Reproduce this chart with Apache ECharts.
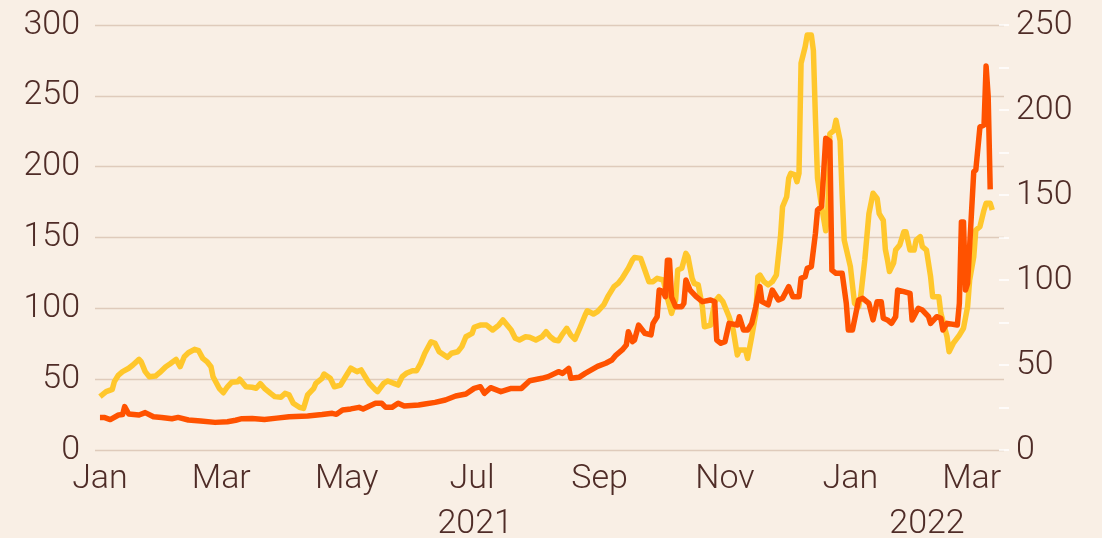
<!DOCTYPE html>
<html>
<head>
<meta charset="utf-8">
<script src="https://cdn.jsdelivr.net/npm/echarts@6/dist/echarts.min.js"></script>
<style>
  html, body { margin: 0; padding: 0; background: #f9efe5; }
  #chart { width: 1102px; height: 538px; }
</style>
</head>
<body>
<div id="chart"></div>
<script>
// ---- Data ----
const orangeDates = [
  '2021-01-01','2021-01-03','2021-01-06','2021-01-10','2021-01-12','2021-01-13','2021-01-15','2021-01-20','2021-01-23','2021-01-27','2021-01-31',
  '2021-02-05','2021-02-08','2021-02-13','2021-02-19','2021-02-26',
  '2021-03-04','2021-03-08','2021-03-11','2021-03-16','2021-03-22','2021-03-28',
  '2021-04-03','2021-04-12','2021-04-19','2021-04-24','2021-04-26','2021-04-29',
  '2021-05-03','2021-05-07','2021-05-09','2021-05-15','2021-05-18','2021-05-20','2021-05-23','2021-05-26','2021-05-29',
  '2021-06-05','2021-06-08','2021-06-13','2021-06-18','2021-06-23','2021-06-28',
  '2021-07-02','2021-07-05','2021-07-07','2021-07-10','2021-07-15','2021-07-20','2021-07-25','2021-07-29',
  '2021-08-04','2021-08-07','2021-08-12','2021-08-14','2021-08-17','2021-08-18','2021-08-22','2021-08-25','2021-08-31',
  '2021-09-04','2021-09-07','2021-09-09','2021-09-12','2021-09-14','2021-09-15','2021-09-17','2021-09-18','2021-09-20','2021-09-23','2021-09-26','2021-09-27','2021-09-29','2021-09-30',
  '2021-10-02','2021-10-03','2021-10-04','2021-10-05','2021-10-06','2021-10-08','2021-10-11','2021-10-12','2021-10-13','2021-10-15','2021-10-18','2021-10-21','2021-10-25','2021-10-27','2021-10-28','2021-10-30',
  '2021-11-01','2021-11-03','2021-11-07','2021-11-08','2021-11-10','2021-11-12','2021-11-14','2021-11-16','2021-11-18','2021-11-19','2021-11-22','2021-11-24','2021-11-27','2021-11-29',
  '2021-12-02','2021-12-04','2021-12-07','2021-12-08','2021-12-10','2021-12-11','2021-12-13','2021-12-15','2021-12-16','2021-12-18','2021-12-20','2021-12-22','2021-12-23','2021-12-25','2021-12-28','2021-12-30','2021-12-31',
  '2022-01-02','2022-01-05','2022-01-07','2022-01-10','2022-01-12','2022-01-14','2022-01-16','2022-01-17','2022-01-19','2022-01-21','2022-01-23','2022-01-24','2022-01-27','2022-01-30','2022-01-31',
  '2022-02-03','2022-02-05','2022-02-08','2022-02-09','2022-02-12','2022-02-14','2022-02-15','2022-02-17','2022-02-22','2022-02-23','2022-02-24','2022-02-25','2022-02-26','2022-02-27',
  '2022-03-02','2022-03-03','2022-03-05','2022-03-07','2022-03-08','2022-03-09','2022-03-10'
];
const orangeValues = [
  23,23,21.5,24.7,25,30.6,25.4,24.7,26.4,23.5,23,
  22.1,23,21.2,20.5,19.5,
  20,21,22.1,22.3,21.6,22.5,
  23.5,24,25,25.9,25.2,28.2,
  29,30.1,28.9,33,33,30.1,30.1,33,31,
  31.8,32.5,33.6,35.3,38.1,39.5,
  43.5,44.7,40,44,41.2,43.5,43.5,48.9,
  50.6,51.8,55.3,54.1,57.6,50.6,51.3,54.1,59,
  61.2,63.5,67,70.6,74.1,83.5,76.5,77.6,88.2,82.4,81.2,89.4,94.1,112.9,
  111.8,108.2,134,134,108,101.2,101.2,103.5,120,112.9,108.2,104.7,105.9,104.7,77.6,75.3,
  76.5,89.4,88.2,94.1,84.7,84.7,89.4,101.2,115.3,104.7,102.4,112.9,105.9,107.1,
  115.3,108.2,108.2,121.2,122.4,128.2,129.4,153,169.4,172,220,218,127,124.7,124.7,103.5,84.7,
  84.7,105.9,107.1,103.5,91.8,104.7,104.7,93,91.8,89.4,94.1,112.9,111.8,110.6,91.8,
  100,98.8,94.1,89.4,94.1,93,84.7,89.4,88.2,103.5,161,161,113,117.6,
  196.5,197.6,228,229.4,271,250,184
];

const yellowDates = [
  '2021-01-01','2021-01-04','2021-01-07','2021-01-08','2021-01-10','2021-01-12','2021-01-15','2021-01-17','2021-01-20','2021-01-21','2021-01-23','2021-01-25','2021-01-28','2021-01-30',
  '2021-02-02','2021-02-04','2021-02-07','2021-02-09','2021-02-11','2021-02-13','2021-02-16','2021-02-18','2021-02-20','2021-02-22','2021-02-24','2021-02-25','2021-02-28',
  '2021-03-02','2021-03-04','2021-03-06','2021-03-09','2021-03-10','2021-03-13','2021-03-16','2021-03-18','2021-03-20','2021-03-22','2021-03-25','2021-03-27','2021-03-30',
  '2021-04-01','2021-04-03','2021-04-05','2021-04-08','2021-04-10','2021-04-12','2021-04-15','2021-04-16','2021-04-19','2021-04-20','2021-04-23','2021-04-25','2021-04-28','2021-04-30',
  '2021-05-03','2021-05-06','2021-05-08','2021-05-10','2021-05-12','2021-05-15','2021-05-16','2021-05-19','2021-05-21','2021-05-24','2021-05-26','2021-05-28','2021-05-30',
  '2021-06-02','2021-06-04','2021-06-06','2021-06-08','2021-06-11','2021-06-13','2021-06-15','2021-06-19','2021-06-21','2021-06-24','2021-06-26','2021-06-28',
  '2021-07-01','2021-07-02','2021-07-05','2021-07-08','2021-07-11','2021-07-14','2021-07-16','2021-07-18','2021-07-20','2021-07-22','2021-07-24','2021-07-27','2021-07-29',
  '2021-08-01','2021-08-04','2021-08-06','2021-08-08','2021-08-10','2021-08-12','2021-08-14','2021-08-16','2021-08-18','2021-08-20','2021-08-22','2021-08-25','2021-08-26','2021-08-29','2021-08-31',
  '2021-09-03','2021-09-05','2021-09-08','2021-09-10','2021-09-12','2021-09-15','2021-09-17','2021-09-18','2021-09-21','2021-09-23','2021-09-25','2021-09-27','2021-09-29',
  '2021-10-02','2021-10-04','2021-10-06','2021-10-08','2021-10-09','2021-10-11','2021-10-13','2021-10-14','2021-10-16','2021-10-17','2021-10-19','2021-10-21','2021-10-22','2021-10-25','2021-10-27','2021-10-29','2021-10-31',
  '2021-11-03','2021-11-05','2021-11-07','2021-11-08','2021-11-11','2021-11-12','2021-11-14','2021-11-16','2021-11-17','2021-11-18','2021-11-20','2021-11-22','2021-11-24','2021-11-26','2021-11-28','2021-11-29',
  '2021-12-01','2021-12-02','2021-12-03','2021-12-05','2021-12-06','2021-12-07','2021-12-08','2021-12-10','2021-12-11','2021-12-13','2021-12-14','2021-12-15','2021-12-16','2021-12-18','2021-12-20','2021-12-21','2021-12-22','2021-12-24','2021-12-25','2021-12-27','2021-12-28','2021-12-29',
  '2022-01-01','2022-01-03','2022-01-05','2022-01-06','2022-01-08','2022-01-10','2022-01-12','2022-01-14','2022-01-15','2022-01-17','2022-01-18','2022-01-19','2022-01-20','2022-01-22','2022-01-23','2022-01-25','2022-01-27','2022-01-28','2022-01-30',
  '2022-02-01','2022-02-02','2022-02-04','2022-02-05','2022-02-07','2022-02-09','2022-02-10','2022-02-13','2022-02-14','2022-02-17','2022-02-18','2022-02-20','2022-02-23','2022-02-25','2022-02-27','2022-02-28',
  '2022-03-02','2022-03-03','2022-03-05','2022-03-07','2022-03-08','2022-03-10','2022-03-11'
];
const yellowValues = [
  31.4,34.3,35.7,40.2,44.1,46.1,48.1,50,53.3,52,46.1,43.1,43.5,45.5,
  49,50.6,53.3,49,54.9,57.2,59.2,58.4,53.9,52,49,43.1,36.3,
  33.7,37.2,39.8,40.2,41.6,37.2,36.9,36.3,39,36.3,33.3,31.4,31,
  33.3,32.4,27.5,25.1,24.5,32.4,36.3,39.2,42.2,44.7,42.2,37.2,38.2,42.2,
  48.1,46.1,47.1,43.1,39.2,35.3,34.3,39.2,40.6,39.2,38.2,43.1,45.1,
  46.6,46.6,51,56.9,63.7,62.7,57.8,54.5,56.9,57.8,60.8,66.6,
  68.6,72.2,73.5,73.5,70.6,73.5,76.5,73.5,70.6,65.7,64.7,66.6,66.3,
  64.7,66.6,69.6,66.6,64.7,64.3,68.2,71.6,67.6,65.1,70.6,79.4,81.9,80,81.4,
  85.3,90.2,96.1,98,101,106.9,111.8,113.3,112.7,105.9,99,99,101,
  100,89.2,80.4,88.2,105.9,106.9,115.7,113.7,101,98,97.1,84.3,72.5,73.5,87.2,90.2,87.2,
  78.4,70.6,55.9,58.8,58.8,53.9,66.6,80.4,101.9,102.9,99,97.1,99,102.9,125.5,143.1,
  149,159.8,162.7,161.8,157.8,162.7,227.5,237.2,244.1,244.1,235,195,160,143,129,140,186,188,194,182,150,123.5,
  107.8,86.3,84.3,90.2,111.8,139,151,148,139,135,118,112,105,110,117.6,120.6,128.4,128.4,117.6,
  117.6,123.5,125.5,119.6,117.6,102,90.2,90.2,80.4,66.6,57.8,62.7,67.6,71.6,84.3,100,
  113.7,129.4,131.4,141.2,145.1,145.1,141.2
];

// Axis tick labels
const monthLabelDates = ['2021-01-01','2021-03-01','2021-05-01','2021-07-01','2021-09-01','2021-11-01','2022-01-01','2022-03-01'];
const monthLabels = ['Jan','Mar','May','Jul','Sep','Nov','Jan','Mar'];
const yearLabelDates = ['2021-07-02 12:00','2022-02-07 06:00'];
const yearLabels = ['2021','2022'];
const leftTicks = { min: 0, max: 300, interval: 50 };
const rightTicks = { min: 0, max: 250, interval: 25, labelEvery: 50 };

// ---- helpers ----
function toTime(s) {
  const parts = s.split(' ');
  const ymd = parts[0].split('-').map(Number);
  let h = 0, mi = 0;
  if (parts[1]) { const hm = parts[1].split(':').map(Number); h = hm[0]; mi = hm[1]; }
  return new Date(ymd[0], ymd[1] - 1, ymd[2], h, mi).getTime();
}
const xMin = toTime('2020-12-29 14:00');
const xMax = toTime('2022-03-16 17:00');

const orangeData = orangeDates.map((d, i) => [toTime(d), orangeValues[i]]);
const yellowData = yellowDates.map((d, i) => [toTime(d), yellowValues[i]]);
const monthTimes = monthLabelDates.map(toTime);
const yearTimes = yearLabelDates.map(toTime);

function labelFor(times, labels, v) {
  for (let i = 0; i < times.length; i++) {
    if (Math.abs(times[i] - v) < 1000) return labels[i];
  }
  return '';
}

const textColor = '#4f2c27';
const fontFamily = 'Roboto, "Noto Sans", sans-serif';
function labelFont(extra) {
  return Object.assign({ fontFamily, fontSize: 34, fontWeight: 300, color: textColor }, extra);
}

const chart = echarts.init(document.getElementById('chart'), null, { renderer: 'canvas' });
chart.setOption({
  backgroundColor: '#f9efe5',
  animation: false,
  grid: { left: 95, right: 98, top: 25, bottom: 88, containLabel: false, outerBoundsMode: 'none' },
  xAxis: [
    {
      type: 'value', min: xMin, max: xMax, scale: true,
      axisLine: { show: false }, axisTick: { show: false }, splitLine: { show: false },
      axisLabel: labelFont({
        customValues: monthTimes,
        margin: 12,
        showMinLabel: true, showMaxLabel: true,
        formatter: v => labelFor(monthTimes, monthLabels, v)
      })
    },
    {
      type: 'value', min: xMin, max: xMax, scale: true, position: 'bottom', offset: 45,
      axisLine: { show: false }, axisTick: { show: false }, splitLine: { show: false },
      axisLabel: labelFont({
        customValues: yearTimes,
        margin: 12,
        formatter: v => labelFor(yearTimes, yearLabels, v)
      })
    }
  ],
  yAxis: [
    {
      type: 'value', position: 'left', min: leftTicks.min, max: leftTicks.max, interval: leftTicks.interval,
      axisLine: { show: false }, axisTick: { show: false },
      splitLine: { show: true, lineStyle: { color: '#dfcbbb', width: 1.3 } },
      axisLabel: labelFont({ margin: 15 })
    },
    {
      type: 'value', position: 'right', offset: -5,
      min: rightTicks.min, max: rightTicks.max, interval: rightTicks.interval,
      axisLine: { show: false },
      axisTick: { show: true, length: 10, lineStyle: { color: '#ffffff', width: 1.5 } },
      splitLine: { show: false },
      axisLabel: labelFont({
        margin: 17,
        formatter: v => (v % rightTicks.labelEvery === 0 ? String(v) : '')
      })
    }
  ],
  series: [
    {
      name: 'yellow', type: 'line', xAxisIndex: 0, yAxisIndex: 1,
      data: yellowData, showSymbol: false, symbol: 'none',
      lineStyle: { color: '#ffc72c', width: 5.5, join: 'round' }, z: 2
    },
    {
      name: 'orange', type: 'line', xAxisIndex: 0, yAxisIndex: 0,
      data: orangeData, showSymbol: false, symbol: 'none',
      lineStyle: { color: '#ff5200', width: 5.5, join: 'round' }, z: 3
    }
  ]
});
</script>
</body>
</html>
